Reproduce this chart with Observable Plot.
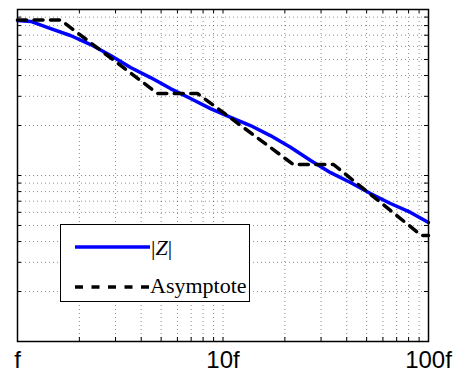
<!DOCTYPE html>
<html><head><meta charset="utf-8">
<script src="https://cdn.jsdelivr.net/npm/d3@7"></script>
<script src="https://cdn.jsdelivr.net/npm/@observablehq/plot@0.6"></script>
<style>
html,body{margin:0;padding:0;background:#fff;}
#wrap{position:relative;width:466px;height:372px;}
#legend{position:absolute;left:60px;top:224px;width:190px;height:78px;border:1px solid #000;background:#fff;box-sizing:border-box;}
#legend svg{display:block;}
</style>
</head><body>
<div id="wrap"><div id="legend"></div></div>
<script>
// |Z| curve (frequency in units of f, magnitude in arbitrary log units)
const freq = [1, 1.16, 1.45, 1.81, 2.27, 2.84, 3.55, 4.44, 5.55, 6.95, 8.69, 10.9, 13.6, 17.0, 21.3, 26.7, 33.4, 41.7, 52.2, 65.3, 81.8, 100];
const magZ = [85.9, 84.7, 76.8, 69.7, 61.5, 52.8, 44.7, 38.9, 33.4, 29.1, 25.3, 22.4, 20.0, 17.4, 14.8, 12.3, 10.4, 9.08, 7.79, 6.78, 5.99, 5.21];
// Asymptote (piecewise)
const asymFreq = [1, 1.62, 4.80, 7.51, 22.0, 34.5, 92.4, 100];
const asymMag = [86.5, 86.5, 31.2, 31.2, 11.65, 11.65, 4.35, 4.35];
// Axis ticks
const xTickValues = [1, 10, 100];
const xTickLabels = ["f", "10f", "100f"];
const gridValues = [1, 2, 3, 4, 5, 6, 7, 8, 9, 10, 20, 30, 40, 50, 60, 70, 80, 90, 100];
const legendLabels = ["|Z|", "Asymptote"];

const zData = freq.map((f, i) => ({f, m: magZ[i]}));
const aData = asymFreq.map((f, i) => ({f, m: asymMag[i]}));

const W = 466, H = 372, mL = 17, mR = 38, mT = 9, mB = 31;
const pw = W - mL - mR, ph = H - mT - mB;
const gridStyle = {stroke: "#000", strokeOpacity: 0.45, strokeDasharray: "1,3", strokeWidth: 1};

const chart = Plot.plot({
  width: W, height: H,
  marginLeft: mL, marginRight: mR, marginTop: mT, marginBottom: mB,
  style: {background: "#fff", fontFamily: "'Liberation Sans', Arial, sans-serif", fontSize: "24px", color: "#000", overflow: "visible"},
  x: {type: "log", domain: [1, 100], label: null},
  y: {type: "log", domain: [1, 100], axis: null, label: null},
  marks: [
    Plot.gridX(gridValues, gridStyle),
    Plot.gridY(gridValues, gridStyle),
    Plot.tickX(gridValues, {x: d => d, insetTop: ph - 4, stroke: "#000", strokeWidth: 1}),
    Plot.tickX(gridValues, {x: d => d, insetBottom: ph - 4, stroke: "#000", strokeWidth: 1}),
    Plot.tickY(gridValues, {y: d => d, insetRight: pw - 4, stroke: "#000", strokeWidth: 1}),
    Plot.tickY(gridValues, {y: d => d, insetLeft: pw - 4, stroke: "#000", strokeWidth: 1}),
    Plot.line(zData, {x: "f", y: "m", stroke: "#0000ff", strokeWidth: 3.5}),
    Plot.line(aData, {x: "f", y: "m", stroke: "#000", strokeWidth: 3.5, strokeDasharray: "9,7.5"}),
    Plot.frame({stroke: "#000", strokeWidth: 1.5}),
    Plot.axisX(xTickValues, {
      label: null, tickSize: 0, tickPadding: 9, fontSize: 24,
      tickFormat: d => xTickLabels[xTickValues.indexOf(d)]
    })
  ]
});
document.getElementById("wrap").prepend(chart);

// Legend inside the axes
const lg = d3.select("#legend").append("svg").attr("width", 188).attr("height", 76);
const rows = [
  {y: 22, stroke: "#0000ff", dash: null},
  {y: 62, stroke: "#000", dash: "8,8.5"}
];
rows.forEach((r) => {
  lg.append("line").attr("x1", 14).attr("x2", 89).attr("y1", r.y).attr("y2", r.y)
    .attr("stroke", r.stroke).attr("stroke-width", 3.5)
    .attr("stroke-dasharray", r.dash);
});
const serif = "'Liberation Serif', 'Times New Roman', serif";
const t1 = lg.append("text").attr("x", 90).attr("y", 30)
  .attr("font-family", serif).attr("font-size", 22).attr("fill", "#000");
t1.append("tspan").text("|");
t1.append("tspan").attr("font-style", "italic").text("Z");
t1.append("tspan").text("|");
lg.append("text").attr("x", 89).attr("y", 68)
  .attr("font-family", serif).attr("font-size", 22).attr("fill", "#000")
  .text(legendLabels[1]);
</script>
</body></html>
